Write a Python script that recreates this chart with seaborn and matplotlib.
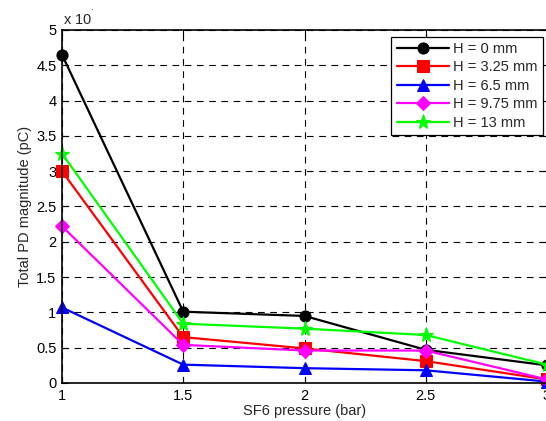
import numpy as np
import pandas as pd
import matplotlib
matplotlib.use("Agg")
import matplotlib.pyplot as plt
import seaborn as sns

pressure = [1.0, 1.5, 2.0, 2.5, 3.0]
labels = ["H = 0 mm", "H = 3.25 mm", "H = 6.5 mm", "H = 9.75 mm", "H = 13 mm"]
h0 = [4.65, 1.01, 0.95, 0.47, 0.25]
h325 = [3.00, 0.65, 0.49, 0.31, 0.05]
h65 = [1.07, 0.26, 0.21, 0.18, 0.02]
h975 = [2.22, 0.54, 0.46, 0.46, 0.05]
h13 = [3.25, 0.84, 0.77, 0.68, 0.26]
series = [h0, h325, h65, h975, h13]
colors = ["#000000", "#ff0000", "#0000ff", "#ff00ff", "#00ff00"]
markers = ["o", "s", "^", "D", "*"]
msizes = [8, 8, 9, 7, 11]
xticks = [1, 1.5, 2, 2.5, 3]
yticks = [0, 0.5, 1, 1.5, 2, 2.5, 3, 3.5, 4, 4.5, 5]

sns.set_theme(style="white")
plt.rcParams["font.family"] = ["Liberation Sans", "DejaVu Sans"]

fig = plt.figure(figsize=(5.46, 4.21), dpi=100)
ax = fig.add_axes([62/546, 1-383/421, (547-62)/546, (383-30)/421])

for lab, vals, c, m, ms in zip(labels, series, colors, markers, msizes):
    df = pd.DataFrame({"x": pressure, "y": vals})
    sns.lineplot(data=df, x="x", y="y", ax=ax, color=c, marker=m, markersize=ms,
                 markeredgecolor=c, linewidth=1.6, label=lab, clip_on=False)

ax.set_xlim(1, 3)
ax.set_ylim(0, 5)
ax.set_xticks(xticks)
ax.set_xticklabels([f"{t:g}" for t in xticks])
ax.set_yticks(yticks)
ax.set_yticklabels([f"{t:g}" for t in yticks])
ax.grid(True, color="black", linestyle=(0, (6, 5)), linewidth=0.8)
ax.tick_params(direction="in", length=4, width=0.8, colors="black", labelsize=10.5,
               top=True, right=True, bottom=True, left=True, pad=4)
for s in ax.spines.values():
    s.set_color("black")
    s.set_linewidth(1.2)
ax.set_xlabel("SF6 pressure (bar)", fontsize=10.5, labelpad=1)
ax.set_ylabel("Total PD magnitude (pC)", fontsize=10.5, labelpad=3)

fig.text(63/546, 1-19/421, "x 10$^{\\mathregular{\u02d9}}$", fontsize=10.5, ha="left", va="center")

leg = ax.legend(loc="upper right", bbox_to_anchor=(543/546, 1-37/421), bbox_transform=fig.transFigure,
                frameon=True, fancybox=False, framealpha=1, edgecolor="black",
                fontsize=10.5, handlelength=3.6, handletextpad=0.3, labelspacing=0.3,
                borderpad=0.35, borderaxespad=0)
leg.get_frame().set_linewidth(0.9)

fig.savefig("out.png", dpi=100)
